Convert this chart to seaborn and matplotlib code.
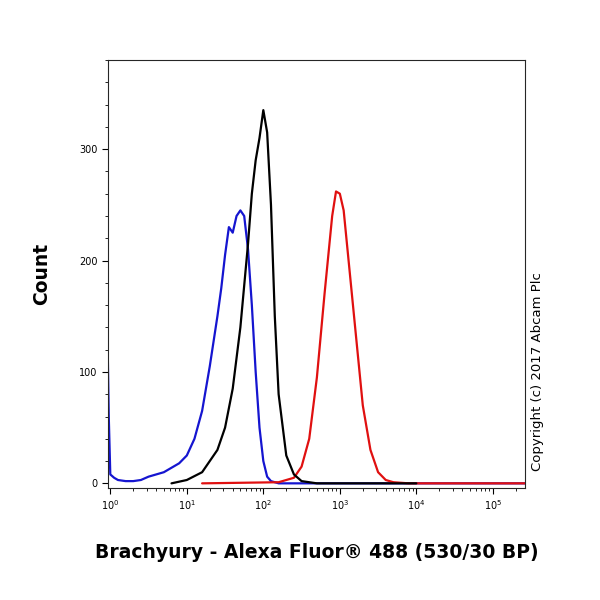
import numpy as np
import matplotlib
matplotlib.use('Agg')
import matplotlib.pyplot as plt
import seaborn as sns
from matplotlib.ticker import LogLocator, MultipleLocator, FixedLocator

sns.set_style('ticks')
plt.rcParams['font.family'] = ['DejaVu Sans']
plt.rcParams['text.color'] = 'black'
plt.rcParams['axes.labelcolor'] = 'black'
plt.rcParams['xtick.color'] = 'black'
plt.rcParams['ytick.color'] = 'black'

# log10 intensity and counts
blue_logx = [-0.05, -0.02, 0.0, 0.05, 0.1, 0.2, 0.3, 0.4, 0.5, 0.6, 0.7, 0.8, 0.9, 1.0,
             1.1, 1.2, 1.3, 1.4, 1.45, 1.5, 1.55, 1.6, 1.65, 1.7, 1.75, 1.8, 1.85,
             1.9, 1.95, 2.0, 2.05, 2.1, 2.2, 5.5]
blue_count = [190, 60, 8, 5, 3, 2, 2, 3, 6, 8, 10, 14, 18, 25, 40, 65, 105, 150, 175,
              205, 230, 225, 240, 245, 240, 210, 160, 100, 50, 20, 6, 2, 0, 0]
black_logx = [0.8, 1.0, 1.2, 1.4, 1.5, 1.6, 1.7, 1.8, 1.85, 1.9, 1.95, 2.0, 2.05, 2.1,
              2.15, 2.2, 2.3, 2.4, 2.5, 2.7, 4.0]
black_count = [0, 3, 10, 30, 50, 85, 140, 215, 260, 290, 310, 335, 315, 250, 150,
               80, 25, 8, 2, 0, 0]
red_logx = [1.2, 2.2, 2.4, 2.5, 2.6, 2.7, 2.8, 2.9, 2.95, 3.0, 3.05, 3.1, 3.2, 3.3,
            3.4, 3.5, 3.6, 3.7, 3.9, 5.5]
red_count = [0, 1, 5, 15, 40, 95, 170, 240, 262, 260, 245, 210, 140, 70, 30, 10, 3,
             1, 0, 0]

fig, ax = plt.subplots(figsize=(6, 6), dpi=100)
fig.subplots_adjust(left=0.18, right=0.875, top=0.9, bottom=0.187)

for lx, cnt, col in [(blue_logx, blue_count, '#1515d0'),
                     (red_logx, red_count, '#e01010'),
                     (black_logx, black_count, 'black')]:
    sns.lineplot(x=10 ** np.array(lx), y=cnt, color=col, lw=1.6, ax=ax)

ax.set_xscale('log')
ax.set_xlim(10 ** -0.03, 10 ** 5.42)
ax.set_ylim(-4, 380)
ax.xaxis.set_major_locator(LogLocator(base=10, numticks=10))
ax.xaxis.set_minor_locator(LogLocator(base=10, subs=np.arange(2, 10), numticks=20))
ax.yaxis.set_major_locator(FixedLocator([0, 100, 200, 300]))
ax.yaxis.set_minor_locator(MultipleLocator(20))
ax.tick_params(labelsize=7, length=4)
ax.tick_params(which='minor', length=2)
ax.set_xlabel('Brachyury - Alexa Fluor® 488 (530/30 BP)', fontsize=13.5,
              fontweight='bold', labelpad=22)
ax.set_ylabel('Count', fontsize=13.5, fontweight='bold', labelpad=20)
for s in ax.spines.values():
    s.set_linewidth(0.8)
fig.text(0.885, 0.38, 'Copyright (c) 2017 Abcam Plc', rotation=90, fontsize=9.5,
         ha='left', va='center')

fig.savefig('out.png', dpi=100)
